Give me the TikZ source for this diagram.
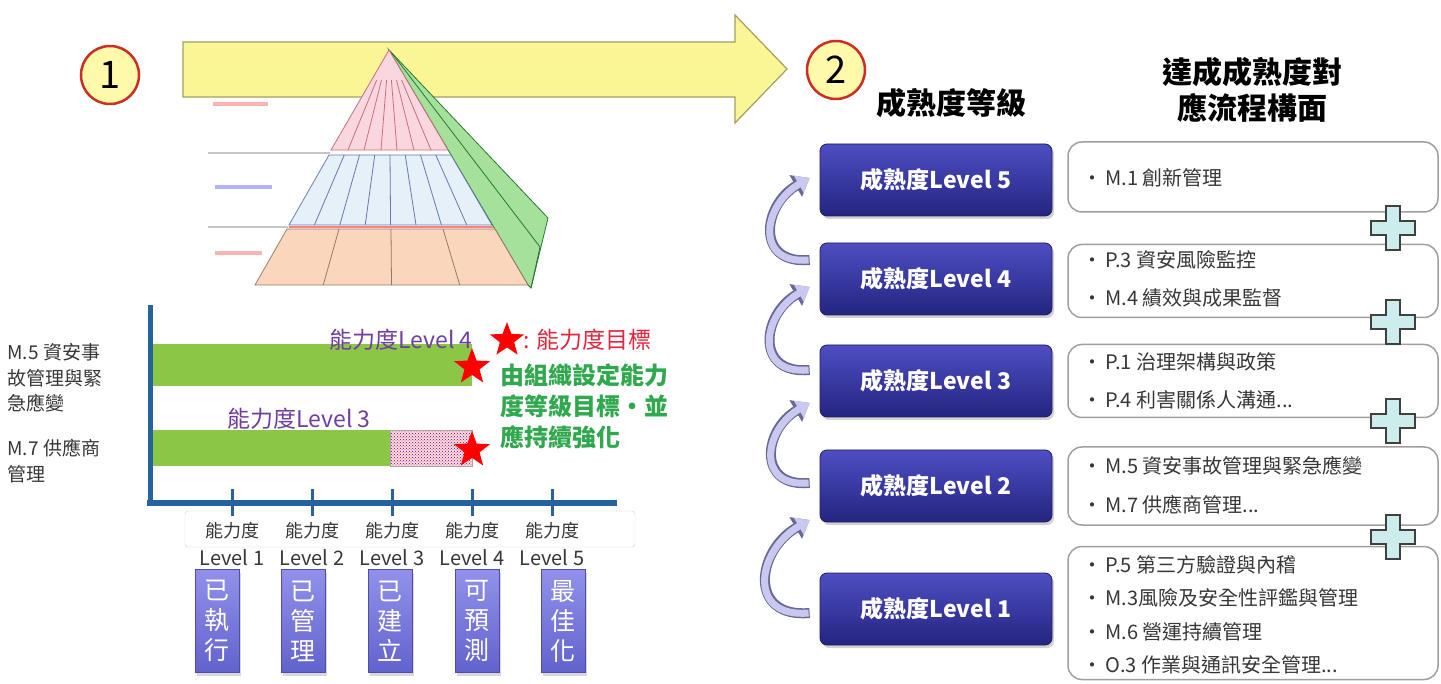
\documentclass[tikz,border=0pt]{standalone}
\usepackage{fontspec}
\setmainfont{Noto Sans CJK TC}
\usepackage{tikz}
\usetikzlibrary{arrows.meta,shapes.geometric,patterns,shadows,calc,positioning}
\definecolor{numred}{RGB}{205,45,35}
\definecolor{numfill}{RGB}{255,249,170}
\definecolor{bigarrow}{RGB}{250,246,150}
\definecolor{lvtop}{RGB}{78,78,195}
\definecolor{lvbot}{RGB}{36,36,128}
\definecolor{lvedge}{RGB}{30,30,100}
\definecolor{arcfill}{RGB}{200,200,240}
\definecolor{arcedge}{RGB}{105,105,150}
\definecolor{crossfill}{RGB}{205,236,236}
\definecolor{txtgray}{RGB}{55,55,55}
\definecolor{axisblue}{RGB}{38,98,158}
\definecolor{bargreen}{RGB}{140,198,70}
\definecolor{lvlpurple}{RGB}{112,62,160}
\definecolor{goalred}{RGB}{222,40,62}
\definecolor{goalgreen}{RGB}{48,168,78}
\definecolor{stagetop}{RGB}{145,145,235}
\definecolor{stagebot}{RGB}{98,98,205}
\definecolor{pyrpink}{RGB}{250,215,222}
\definecolor{pyrblue}{RGB}{230,240,248}
\definecolor{pyrorange}{RGB}{250,215,188}
\definecolor{pyrgreen}{RGB}{165,225,155}
\definecolor{edgegreen}{RGB}{40,120,50}
\definecolor{edgepink}{RGB}{200,110,125}
\definecolor{edgeblue}{RGB}{100,120,180}
\definecolor{edgebrown}{RGB}{150,120,100}
\tikzstyle{num}=[circle, draw=numred, fill=numfill, line width=2.5pt, minimum size=58pt, inner sep=0pt, font=\fontsize{38}{38}\selectfont]
\tikzstyle{lvbox}=[rounded corners=7pt, minimum width=232pt, minimum height=72pt, top color=lvtop, bottom color=lvbot, draw=lvedge, line width=0.8pt, text=white, font=\fontsize{23}{23}\selectfont\bfseries, drop shadow={opacity=0.35, shadow xshift=2pt, shadow yshift=-3pt}]
\tikzstyle{listbox}=[rounded corners=14pt, draw=gray!75, line width=1.5pt, fill=white, minimum width=370pt]
\tikzstyle{item}=[anchor=west, inner sep=0pt, text=txtgray, font=\fontsize{20}{20}\selectfont]
\tikzstyle{stage}=[minimum width=44pt, minimum height=103pt, inner sep=0pt, top color=stagetop, bottom color=stagebot, draw=stagebot!80!black, line width=0.6pt, text=white, align=center, font=\fontsize{25}{30}\selectfont, drop shadow={opacity=0.3, shadow xshift=2pt, shadow yshift=-3pt}]
\tikzstyle{goal}=[star, star points=5, star point ratio=2.4, fill=red, inner sep=0pt, minimum size=38pt]
\tikzstyle{arcout}=[line width=10pt, draw=arcedge, -{Triangle[length=16pt,width=24pt]}]
\tikzstyle{arcin}=[line width=7pt, draw=arcfill, -{Triangle[length=12.5pt,width=19pt]}]
\tikzset{plussign/.pic={\draw[draw=black!75, fill=crossfill, line width=1.5pt] (-7,-22) -- (7,-22) -- (7,-7) -- (22,-7) -- (22,7) -- (7,7) -- (7,22) -- (-7,22) -- (-7,7) -- (-22,7) -- (-22,-7) -- (-7,-7) -- cycle;}}

\begin{document}
\begin{tikzpicture}[x=1pt, y=-1pt]
	\useasboundingbox (0,0) rectangle (1441,684);
	\fill[white] (0,0) rectangle (1441,684);

	\begin{scope}
		\filldraw[fill=bigarrow, draw=black!35!bigarrow, line width=1.2pt] (183,42) -- (735,42) -- (735,15) -- (787,69) -- (735,123) -- (735,97) -- (183,97) -- cycle;
		\node[num] (c1) at (110,75) {1};
		\node[num] (c2) at (836,70) {2};
	\end{scope}

	\begin{scope}[line width=0.8pt]
		\filldraw[fill=pyrgreen, draw=edgegreen] (389,50) -- (548,218) -- (531,288) -- (528,285) -- cycle;
		\draw[edgegreen] (391,52) -- (540,247) -- (531,288);
		\filldraw[fill=pyrpink, draw=edgepink] (389,50) -- (448,150) -- (331,150) -- cycle;
		\foreach \xb in {348,364,381,397,414,431}
			\draw[edgepink] ($(389,50)!0.3!(\xb,150)$) -- (\xb,150);
		\filldraw[fill=pyrblue, draw=edgeblue] (329,155) -- (451,155) -- (492,225) -- (289,225) -- cycle;
		\foreach \k in {1,...,7}
			\draw[edgeblue] ({329+\k*15.25},155) -- ({289+\k*25.4},225);
		\draw[red!50, line width=2pt] (289,227) -- (493,227);
		\filldraw[fill=pyrorange, draw=edgebrown] (287,229) -- (495,229) -- (528,285) -- (255,285) -- cycle;
		\foreach \k in {1,2,3}
			\draw[edgebrown] ({287+\k*52},229) -- ({255+\k*68.25},285);
		\draw[gray!45, line width=1.5pt] (208,153) -- (330,153);
		\draw[gray!45, line width=1.5pt] (208,227) -- (288,227);
		\draw[red!30, line width=4pt] (213,104) -- (268,104);
		\draw[blue!30, line width=4pt] (215,187) -- (272,187);
		\draw[red!30, line width=4pt] (215,253) -- (262,253);
	\end{scope}

	\begin{scope}
		\node[draw=gray!35, fill=white, rounded corners=3pt, minimum width=450pt, minimum height=36pt] (axbox) at (410,529) {};
		\fill[bargreen] (150,344) rectangle (472,386);
		\fill[bargreen] (150,430) rectangle (390,466);
		\fill[pink!55] (390,430) rectangle (472,466);
		\fill[pattern=crosshatch dots, pattern color=violet] (390,430) rectangle (472,466);
		\draw[gray!70] (390,430) rectangle (472,466);
		\draw[axisblue, line width=5pt] (150,305) -- (150,506);
		\draw[axisblue, line width=6pt] (147,503) -- (617,503);
		\foreach \k in {1,...,5}
			\draw[axisblue, line width=3pt] ({152+80*\k},489) -- ({152+80*\k},516);
		\foreach \k in {1,...,5} {
			\node[text=txtgray, font=\fontsize{18}{18}\selectfont] (ax\k) at ({152+80*\k},531) {能力度};
			\node[text=txtgray, font=\fontsize{20}{20}\selectfont] (lb\k) at ({152+80*\k},558) {Level \k};
		}
		\node[goal] (g4) at (472,367) {};
		\node[goal] (g3) at (472,450) {};
		\node[anchor=east, text=lvlpurple, font=\fontsize{23}{23}\selectfont] (cap4) at (476,340) {能力度Level 4};
		\node[anchor=west, text=lvlpurple, font=\fontsize{23}{23}\selectfont] (cap3) at (224,419) {能力度Level 3};
		\node[goal, minimum size=36pt] (key) at (507,340) {};
		\node[anchor=west, text=goalred, font=\fontsize{23}{23}\selectfont] (keytxt) at (520,340) {: 能力度目標};
		\node[anchor=west, text=goalgreen, align=left, font=\fontsize{24}{31}\selectfont\bfseries] (note) at (497,406) {由組織設定能力\\度等級目標・並\\應持續強化};
		\node[anchor=west, align=left, text=txtgray, font=\fontsize{19}{25.5}\selectfont] (m5) at (4,378) {M.5 資安事\\故管理與緊\\急應變};
		\node[anchor=west, align=left, text=txtgray, font=\fontsize{19}{25.5}\selectfont] (m7) at (4,461) {M.7 供應商\\管理};
		\node[stage] (s1) at (217,621) {已\\執\\行};
		\node[stage] (s2) at (303,621) {已\\管\\理};
		\node[stage] (s3) at (390,621) {已\\建\\立};
		\node[stage] (s4) at (477,621) {可\\預\\測};
		\node[stage] (s5) at (563,621) {最\\佳\\化};
	\end{scope}

	\begin{scope}
		\node[font=\fontsize{30}{35}\selectfont\bfseries] (t1) at (951,103) {成熟度等級};
		\node[font=\fontsize{30}{36}\selectfont\bfseries, align=center] (t2) at (1252,90) {達成成熟度對\\應流程構面};
		\node[lvbox] (lv5) at (936,180) {成熟度Level 5};
		\node[lvbox] (lv4) at (936,279) {成熟度Level 4};
		\node[lvbox] (lv3) at (936,381) {成熟度Level 3};
		\node[lvbox] (lv2) at (936,486) {成熟度Level 2};
		\node[lvbox] (lv1) at (936,609) {成熟度Level 1};
		\node[listbox, minimum height=70pt] (lst5) at (1253,177) {};
		\node[listbox, minimum height=73pt] (lst4) at (1253,281) {};
		\node[listbox, minimum height=73pt] (lst3) at (1253,381) {};
		\node[listbox, minimum height=78pt] (lst2) at (1253,486) {};
		\node[listbox, minimum height=133pt] (lst1) at (1253,613) {};
		\node[item] (i5a) at (1082,178) {\makebox[23pt][l]{•}M.1 創新管理};
		\node[item] (i4a) at (1082,260) {\makebox[23pt][l]{•}P.3 資安風險監控};
		\node[item] (i4b) at (1082,298) {\makebox[23pt][l]{•}M.4 績效與成果監督};
		\node[item] (i3a) at (1082,362) {\makebox[23pt][l]{•}P.1 治理架構與政策};
		\node[item] (i3b) at (1082,400) {\makebox[23pt][l]{•}P.4 利害關係人溝通...};
		\node[item] (i2a) at (1082,466) {\makebox[23pt][l]{•}M.5 資安事故管理與緊急應變};
		\node[item] (i2b) at (1082,505) {\makebox[23pt][l]{•}M.7 供應商管理...};
		\node[item] (i1a) at (1082,565) {\makebox[23pt][l]{•}P.5 第三方驗證與內稽};
		\node[item] (i1b) at (1082,598) {\makebox[23pt][l]{•}M.3風險及安全性評鑑與管理};
		\node[item] (i1c) at (1082,632) {\makebox[23pt][l]{•}M.6 營運持續管理};
		\node[item] (i1d) at (1082,665) {\makebox[23pt][l]{•}O.3 作業與通訊安全管理...};
		\foreach \y in {228,322,421,537}
			\pic at (1393,\y) {plussign};
		\foreach \lo/\hi/\ta/\hd in {4/5/19/2, 3/4/11/-8, 2/3/3/-22, 1/2/-4/-34} {
			\draw[arcout] ([xshift=-10pt,yshift=\ta pt]lv\lo.west) to[out=185, in=210, looseness=1.7] ([xshift=-10pt,yshift=\hd pt]lv\hi.west);
			\draw[arcin] ([xshift=-11pt,yshift=\ta pt]lv\lo.west) to[out=185, in=210, looseness=1.7] ([xshift=-10pt,yshift=\hd pt]lv\hi.west);
		}
	\end{scope}
\end{tikzpicture}
\end{document}
